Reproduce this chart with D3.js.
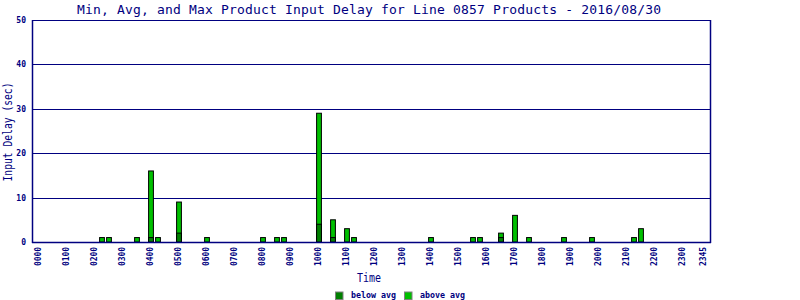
<!DOCTYPE html>
<html><head><meta charset="utf-8">
<script src="https://cdn.jsdelivr.net/npm/d3@7"></script>
<style>body{margin:0;background:#fff}svg{display:block}</style>
</head><body>
<svg id="c" width="800" height="300"></svg>
<script>
const titleText = "Min, Avg, and Max Product Input Delay for Line 0857 Products - 2016/08/30";
const slotLabels = ["0000","0100","0200","0300","0400","0500","0600","0700","0800","0900","1000","1100","1200","1300","1400","1500","1600","1700","1800","1900","2000","2100","2200","2300","2345"];
const slotTicks = [0,4,8,12,16,20,24,28,32,36,40,44,48,52,56,60,64,68,72,76,80,84,88,92,95];
const yTicks = [0,10,20,30,40,50];
// 15-minute slot index (0 = 00:00)
const barSlots = [9,10,14,16,17,20,24,32,34,35,40,42,44,45,56,62,63,66,68,70,75,79,85,86];
const belowAvg = [0,0,0,1,0,2,0,0,0,0,4,1,0,0,0,0,0,1,0,0,0,0,0,0];
const maxDelay = [1,1,1,16,1,9,1,1,1,1,29,5,3,1,1,1,1,2,6,1,1,1,1,3];
const legendNames = ["below avg","above avg"];
const colors = ["#008000","#00C000"];

const navy = "#000080";
const mono = "'DejaVu Sans Mono', monospace";
const svg = d3.select("#c");
const L = 32, R = 711, T = 20, B = 242;
const x = d3.scaleLinear().domain([-1, 96]).range([L, R]);
const y = d3.scaleLinear().domain([0, 50]).range([B, T]);

// title
svg.append("text").attr("x", 369).attr("y", 14).attr("text-anchor","middle")
  .attr("font-family", mono).attr("font-size", 13).attr("fill", navy)
  .attr("textLength", 584).attr("lengthAdjust","spacing").text(titleText);

// gridlines
svg.append("g").selectAll("line").data(yTicks.filter(d=>d>0)).join("line")
  .attr("x1", L).attr("x2", R).attr("y1", d=>Math.round(y(d))+0.5).attr("y2", d=>Math.round(y(d))+0.5)
  .attr("stroke", navy).attr("stroke-width", 1);

// bars
const bars = barSlots.map((s,i)=>({s, lo: belowAvg[i], hi: maxDelay[i]}));
const bw = 4.8;
const g = svg.append("g").attr("stroke","#000").attr("stroke-width",1);
g.selectAll(".hi").data(bars).join("rect").attr("class","hi")
  .attr("x", d=>x(d.s)-bw/2).attr("width", bw)
  .attr("y", d=>y(d.hi)).attr("height", d=>y(0)-y(d.hi)).attr("fill", colors[1]);
g.selectAll(".lo").data(bars.filter(d=>d.lo>0)).join("rect").attr("class","lo")
  .attr("x", d=>x(d.s)-bw/2).attr("width", bw)
  .attr("y", d=>y(d.lo)).attr("height", d=>y(0)-y(d.lo)).attr("fill", colors[0]);

// frame
svg.append("line").attr("x1", L+0.5).attr("x2", L+0.5).attr("y1", T).attr("y2", B+1).attr("stroke", navy).attr("stroke-width", 1.5);
svg.append("line").attr("x1", R-0.5).attr("x2", R-0.5).attr("y1", T).attr("y2", B+1).attr("stroke", navy).attr("stroke-width", 1.5);
svg.append("line").attr("x1", L).attr("x2", R).attr("y1", B+0.5).attr("y2", B+0.5).attr("stroke", navy).attr("stroke-width", 1.5);

// y tick labels
svg.append("g").selectAll("text").data(yTicks).join("text")
  .attr("x", 26).attr("y", d=>y(d)+3).attr("text-anchor","end")
  .attr("font-family", mono).attr("font-size", 8).attr("font-weight","bold").attr("fill", navy).text(d=>d);

// x tick labels
svg.append("g").selectAll("text").data(slotTicks).join("text")
  .attr("transform", d=>`translate(${x(d)-0.5},247) rotate(-90)`)
  .attr("text-anchor","end").attr("dy","0.35em")
  .attr("font-family", mono).attr("font-size", 8).attr("font-weight","bold").attr("fill", navy)
  .attr("textLength", 19).attr("lengthAdjust","spacing")
  .text((d,i)=>slotLabels[i]);

// axis titles
svg.append("text").attr("x", 369).attr("y", 282).attr("text-anchor","middle")
  .attr("font-family", mono).attr("font-size", 11.5).attr("fill", navy)
  .attr("textLength", 24).attr("lengthAdjust","spacingAndGlyphs").text("Time");
svg.append("text").attr("transform","translate(12,132) rotate(-90)").attr("text-anchor","middle")
  .attr("font-family", mono).attr("font-size", 11.5).attr("fill", navy)
  .attr("textLength", 99).attr("lengthAdjust","spacingAndGlyphs").text("Input Delay (sec)");

// legend
const lx = [335, 404];
const lg = svg.append("g").selectAll("g").data(legendNames).join("g")
  .attr("transform",(d,i)=>`translate(${lx[i]},291.5)`);
lg.append("rect").attr("x",0.5).attr("y",0.5).attr("width",7.5).attr("height",7.5)
  .attr("fill",(d,i)=>colors[i]).attr("stroke","#808080").attr("stroke-width",1);
lg.append("text").attr("x", 16).attr("y", 6.8).attr("font-family", mono).attr("font-size", 8.3)
  .attr("font-weight","bold").attr("fill", navy)
  .attr("textLength", 45).attr("lengthAdjust","spacing").text(d=>d);
</script>
</body></html>
